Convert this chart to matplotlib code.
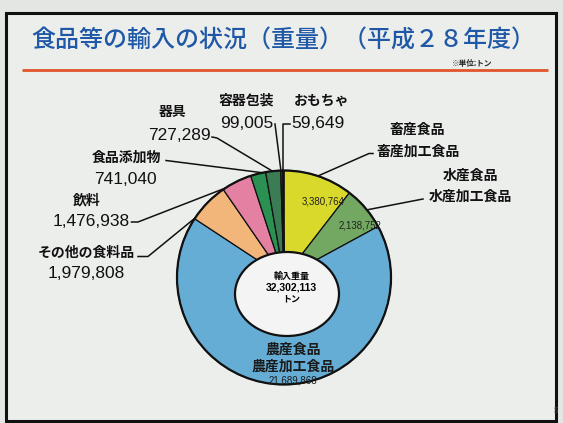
import matplotlib
matplotlib.use("Agg")
import matplotlib.pyplot as plt
from matplotlib.patches import Rectangle, Circle, Ellipse
import numpy as np

plt.rcParams['font.family'] = ['Noto Sans CJK JP', 'DejaVu Sans']

# ---- data ----
categories = ['畜産食品・畜産加工食品', '水産食品・水産加工食品', '農産食品・農産加工食品',
              'その他の食料品', '飲料', '食品添加物', '器具', '容器包装', 'おもちゃ']
values = [3380764, 2138752, 21698868, 1979808, 1476938, 741040, 727289, 99005, 59649]
value_text = ['3,380,764', '2,138,752', '21,689,868', '1,979,808', '1,476,938',
              '741,040', '727,289', '99,005', '59,649']
colors = ['#d9d92c', '#72a862', '#66add5', '#f2b57a', '#e480a2', '#2b9153', '#3c7c54',
          '#24553a', '#1f4a33']
total_text = '32,302,113'
title = '食品等の輸入の状況（重量）（平成２８年度）'
unit = '※単位:トン'

W, H = 563, 423
def Y(y):
    return H - y

fig = plt.figure(figsize=(W / 100, H / 100), dpi=100, facecolor='#e3e6e3')
ax = fig.add_axes([0, 0, 1, 1])

# frame / slide
ax.add_patch(Rectangle((6, Y(421)), 550, 408, facecolor='#eceeec', edgecolor='#111111', lw=2.2, zorder=0))
ax.plot([22, 548], [Y(70), Y(70)], color='#e2552a', lw=2.0, solid_capstyle='butt')

ax.text(31, Y(41), title, color='#1f58a6', fontsize=17.3, fontweight='medium', ha='left', va='center')
ax.text(472, Y(63), unit, color='#222222', fontsize=5.5, fontweight='bold', ha='center', va='center')
ax.text(556, Y(410), '5', color='#333333', fontsize=5.5, fontweight='bold', ha='center', va='center')

# pie
cx, cy, R = 284, 277.5, 107
wedges, _ = ax.pie(values, colors=colors, startangle=90, counterclock=False,
                   center=(cx, Y(cy)), radius=R,
                   wedgeprops=dict(edgecolor='#111111', linewidth=0.9))
ax.add_patch(Circle((cx, Y(cy)), R, fill=False, edgecolor='#111111', lw=1.6, zorder=3))
ax.add_patch(Ellipse((287, Y(294)), 104, 84, facecolor='#f3f4f3', edgecolor='#111111', lw=1.6, zorder=4))

frac = np.array(values) / np.sum(values)
cum = np.concatenate([[0], np.cumsum(frac)]) * 360.0

def ring_point(i, f, r=R):
    a = np.radians(cum[i] + f * (cum[i + 1] - cum[i]))
    return cx + r * np.sin(a), Y(cy - r * np.cos(a))

numfam = ['Liberation Sans', 'DejaVu Sans']

# center text
ax.text(291.5, Y(276.5), '輸入重量', fontsize=6.5, fontweight='bold', ha='center', va='center', zorder=5)
ax.text(291.5, Y(287.5), total_text, fontsize=7.5, fontweight='bold', family=numfam, ha='center', va='center', zorder=5)
ax.text(291.5, Y(298.5), 'トン', fontsize=6.5, fontweight='bold', ha='center', va='center', zorder=5)

# inner slice labels
ax.text(323, Y(201), value_text[0], fontsize=7, family=numfam, ha='center', va='center', color='#222222', zorder=5)
ax.text(360, Y(225), value_text[1], fontsize=7, family=numfam, ha='center', va='center', color='#222222', zorder=5)
ax.text(293, Y(350), '農産食品', fontsize=10, fontweight='bold', ha='center', va='center', color='#1a1a1a', zorder=5)
ax.text(293, Y(367), '農産加工食品', fontsize=10, fontweight='bold', ha='center', va='center', color='#1a1a1a', zorder=5)
ax.text(293, Y(380), value_text[2], fontsize=7, family=numfam, ha='center', va='center', color='#1a1a1a', zorder=5)

lab = dict(fontsize=10, fontweight='bold', color='#111111', va='center', zorder=5)
num = dict(fontsize=12.5, family=numfam, color='#111111', va='center', zorder=5)

# outside labels
ax.text(417.5, Y(130), '畜産食品', ha='center', **lab)
ax.text(418.5, Y(152), '畜産加工食品', ha='center', **lab)
ax.text(470, Y(176), '水産食品', ha='center', **lab)
ax.text(470, Y(197), '水産加工食品', ha='center', **lab)
ax.text(86, Y(253), 'その他の食料品', ha='center', **lab)
ax.text(86.5, Y(273), value_text[3], ha='center', **num)
ax.text(87, Y(200), '飲料', ha='center', **lab)
ax.text(130, Y(221), value_text[4], ha='right', **num)
ax.text(126, Y(158), '食品添加物', ha='center', **lab)
ax.text(125, Y(179), value_text[5], ha='center', **num)
ax.text(173, Y(112), '器具', ha='center', **lab)
ax.text(211, Y(135), value_text[6], ha='right', **num)
ax.text(246, Y(101), '容器包装', ha='center', **lab)
ax.text(273, Y(123), value_text[7], ha='right', **num)
ax.text(322, Y(101), 'おもちゃ', ha='center', **lab)
ax.text(291, Y(123), value_text[8], ha='left', **num)

# leader lines: (wedge index, fraction, path points near the label)
leaders = [
    (0, 0.49, [(373, 153.5), (369, 153.5)]),
    (1, 0.55, [(423, 199)]),
    (3, 0.02, [(138, 256.5), (148, 256.5)]),
    (4, 0.07, [(131.5, 222), (138, 222)]),
    (5, 0.78, [(166, 160.5)]),
    (6, 0.45, [(212, 137), (217, 138)]),
    (7, 0.1, [(275, 124)]),
    (8, 0.5, [(289.5, 124), (283.3, 124)]),
]
for i, f, pts in leaders:
    xs = [p[0] for p in pts]
    ys = [Y(p[1]) for p in pts]
    ex, ey = ring_point(i, f)
    if i == 8:
        ex = xs[-1]
    xs.append(ex)
    ys.append(ey)
    ax.plot(xs, ys, color='#111111', lw=1.1, zorder=2)

ax.set_xlim(0, W)
ax.set_ylim(0, H)
ax.set_aspect('auto')
ax.axis('off')

fig.savefig('out.png', dpi=100, facecolor=fig.get_facecolor())
